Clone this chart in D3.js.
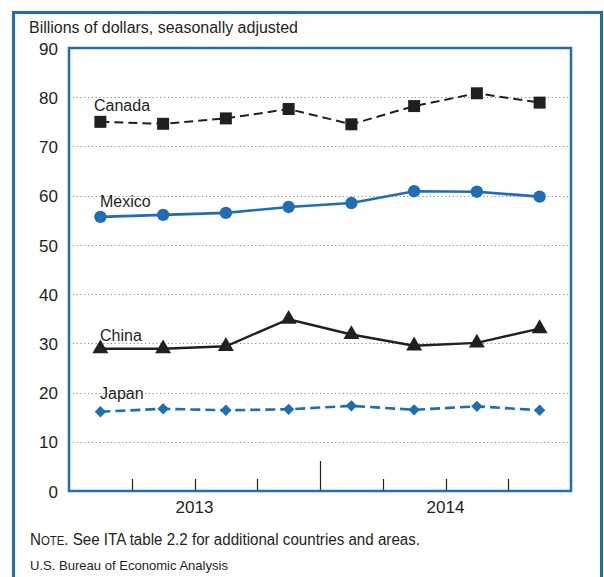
<!DOCTYPE html>
<html>
<head>
<meta charset="utf-8">
<script src="https://cdn.jsdelivr.net/npm/d3@7"></script>
<style>
  html, body { margin: 0; padding: 0; background: #fff; }
  svg { display: block; font-family: "Liberation Sans", Arial, Helvetica, sans-serif; }
</style>
</head>
<body>
<svg id="chart" width="604" height="577"></svg>
<script>
// Quarterly exports by partner, billions of dollars, seasonally adjusted
const quarters = ["2013 Q1", "2013 Q2", "2013 Q3", "2013 Q4", "2014 Q1", "2014 Q2", "2014 Q3", "2014 Q4"];
const years = ["2013", "2014"];
const canada = [75.0, 74.6, 75.7, 77.6, 74.5, 78.2, 80.8, 78.9];
const mexico = [55.7, 56.1, 56.5, 57.7, 58.5, 60.9, 60.8, 59.8];
const china  = [28.9, 28.9, 29.4, 34.9, 31.8, 29.5, 30.1, 33.0];
const japan  = [16.1, 16.7, 16.4, 16.6, 17.3, 16.5, 17.2, 16.4];
const yTicks = [0, 10, 20, 30, 40, 50, 60, 70, 80, 90];

const blue = "#1f6db3";
const ink = "#231f20";

const svg = d3.select("#chart");

// outer panel border
svg.append("rect")
  .attr("x", 13.5).attr("y", 12.5)
  .attr("width", 588).attr("height", 600)
  .attr("fill", "none").attr("stroke", blue).attr("stroke-width", 3);

const plot = { left: 69, right: 571, top: 48, bottom: 491 };

const x = d3.scaleBand().domain(quarters).range([plot.left, plot.right]);
const y = d3.scaleLinear().domain([0, 90]).range([plot.bottom, plot.top]);

// axis title
svg.append("text")
  .attr("x", 29).attr("y", 33)
  .attr("font-size", 16).attr("fill", ink)
  .attr("textLength", 269).attr("lengthAdjust", "spacingAndGlyphs")
  .text("Billions of dollars, seasonally adjusted");

// dotted gridlines
svg.append("g").selectAll("line")
  .data(yTicks.filter(d => d > 0 && d < 90))
  .join("line")
  .attr("x1", plot.left).attr("x2", plot.right)
  .attr("y1", d => Math.round(y(d)) + 0.5).attr("y2", d => Math.round(y(d)) + 0.5)
  .attr("stroke", "#8a8a8a").attr("stroke-width", 1)
  .attr("stroke-dasharray", "1.2,2.6");

// y axis labels
const yAxis = d3.axisLeft(y).tickValues(yTicks).tickSize(0).tickPadding(0);
const yg = svg.append("g").attr("transform", `translate(58,0)`).call(yAxis);
yg.select(".domain").remove();
yg.selectAll("text")
  .attr("font-size", 17).attr("font-family", "Liberation Sans, Arial, sans-serif")
  .attr("fill", ink).attr("dy", "0.36em");

// quarter separator ticks along the bottom
const boundaries = quarters.slice(1).map(q => x(q));
svg.append("g").selectAll("line")
  .data(boundaries)
  .join("line")
  .attr("x1", d => Math.round(d) + 0.5).attr("x2", d => Math.round(d) + 0.5)
  .attr("y1", plot.bottom)
  .attr("y2", (d, i) => plot.bottom - (i === 3 ? 30 : 12))
  .attr("stroke", ink).attr("stroke-width", 1.2);

// year labels centred under each year's four quarters
svg.append("g").selectAll("text")
  .data(years)
  .join("text")
  .attr("x", (d, i) => x(quarters[i * 4 + 2]))
  .attr("y", 513)
  .attr("text-anchor", "middle")
  .attr("font-size", 17).attr("fill", ink)
  .text(d => d);

const cx = (d, i) => x(quarters[i]) + x.bandwidth() / 2;
const line = d3.line().x(cx).y(d => y(d));

function drawSeries(values, color, dash, width, symbolType, size, rotate, label, lx, ly) {
  const g = svg.append("g");
  g.append("path")
    .attr("d", line(values))
    .attr("fill", "none").attr("stroke", color)
    .attr("stroke-width", width)
    .attr("stroke-dasharray", dash);
  g.selectAll("path.m")
    .data(values)
    .join("path")
    .attr("class", "m")
    .attr("transform", (d, i) => `translate(${cx(d, i)},${y(d)}) rotate(${rotate})`)
    .attr("d", d3.symbol().type(symbolType).size(size))
    .attr("fill", color);
  svg.append("text")
    .attr("x", lx).attr("y", ly)
    .attr("font-size", 16).attr("fill", ink)
    .text(label);
}

drawSeries(canada, ink, "9,5", 2, d3.symbolSquare, 144, 0, "Canada", 94, 111);
drawSeries(mexico, blue, null, 2.6, d3.symbolCircle, 120, 0, "Mexico", 100, 207);
drawSeries(china, ink, null, 2.4, d3.symbolTriangle, 110, 0, "China", 100, 341);
drawSeries(japan, blue, "10,5", 2.6, d3.symbolSquare, 64, 45, "Japan", 100, 399);

// plot frame
svg.append("rect")
  .attr("x", plot.left).attr("y", plot.top)
  .attr("width", plot.right - plot.left).attr("height", plot.bottom - plot.top)
  .attr("fill", "none").attr("stroke", blue).attr("stroke-width", 2.5);

// footnote and source
const note = svg.append("text")
  .attr("x", 30).attr("y", 545)
  .attr("font-size", 16).attr("fill", ink)
  .attr("textLength", 390).attr("lengthAdjust", "spacingAndGlyphs");
note.append("tspan").text("N");
note.append("tspan").attr("font-size", 12).text("OTE");
note.append("tspan").text(". See ITA table 2.2 for additional countries and areas.");

svg.append("text")
  .attr("x", 30).attr("y", 570)
  .attr("font-size", 13.5).attr("fill", ink)
  .attr("textLength", 198).attr("lengthAdjust", "spacingAndGlyphs")
  .text("U.S. Bureau of Economic Analysis");
</script>
</body>
</html>
